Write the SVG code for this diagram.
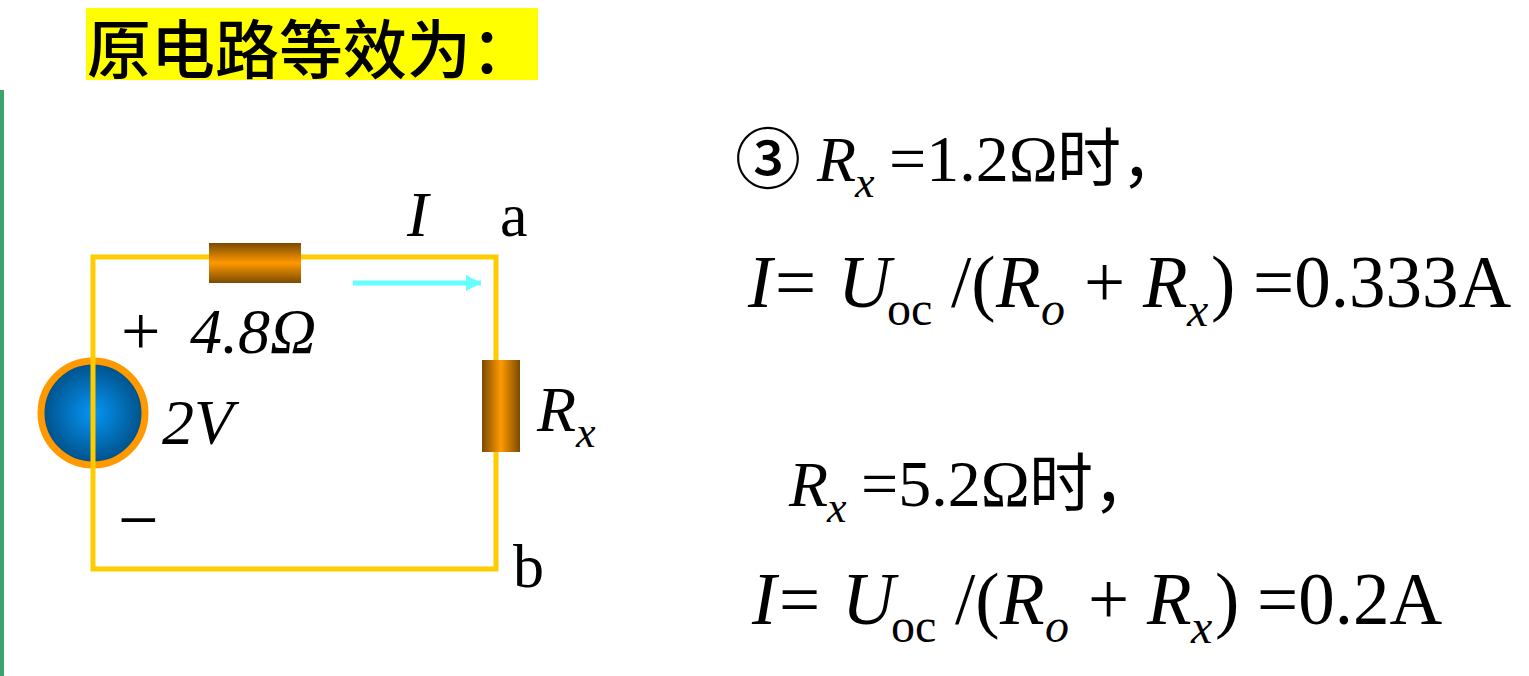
<svg xmlns="http://www.w3.org/2000/svg" width="1529" height="676" viewBox="0 0 1529 676">
<style>
text{font-family:"Liberation Serif","Noto Sans CJK SC",serif;fill:#000}
.l{font-size:64px}
.e{font-size:73px}
.i{font-style:italic}
.s{font-size:44px}
.t{font-size:48px}
.w{fill:none;stroke:#fc0;stroke-width:5}
.cjk{font-family:"Noto Sans CJK SC",sans-serif}
</style>
<defs>
<linearGradient id="h" x1="0" y1="0" x2="0" y2="1"><stop offset="0" stop-color="#7a4b00"/><stop offset=".5" stop-color="#f90"/><stop offset="1" stop-color="#7a4b00"/></linearGradient>
<linearGradient id="v" x1="0" y1="0" x2="1" y2="0"><stop offset="0" stop-color="#7a4b00"/><stop offset=".5" stop-color="#f90"/><stop offset="1" stop-color="#7a4b00"/></linearGradient>
<radialGradient id="b"><stop offset="0" stop-color="#0596f5"/><stop offset="1" stop-color="#004f86"/></radialGradient>
<marker id="a" markerUnits="userSpaceOnUse" markerWidth="16" markerHeight="16" refX="15" refY="8" orient="auto"><path d="M0 0L15 8L0 16Z" fill="#6ff"/></marker>
</defs>
<rect x="0" y="90" width="4" height="586" fill="#3ca370"/>
<g id="title"><rect x="86" y="8" width="452" height="72" fill="#ff0"/><text class="cjk" x="87" y="73" font-size="64" font-weight="500">原电路等效为：</text></g>
<g id="source"><circle cx="93" cy="413" r="52" fill="url(#b)" stroke="#f90" stroke-width="7"/></g>
<g id="connectors">
<path class="w" d="M93 257H496V569H93Z"/>
<path d="M353 283H481" stroke="#6ff" stroke-width="5" fill="none" marker-end="url(#a)"/>
</g>
<g id="r0"><rect x="209" y="243" width="92" height="40" fill="url(#h)"/></g>
<g id="rx"><rect x="482" y="360" width="38" height="92" fill="url(#v)"/></g>
<g id="labels">
<text class="l i" x="407" y="236">I</text>
<text x="500" y="236" font-size="62">a</text>
<text x="121" y="355" font-size="70">+</text>
<text class="l i" x="190" y="353">4.8Ω</text>
<text class="l i" x="162" y="444">2V</text>
<text class="l i" x="537" y="431">R</text><text class="s i" x="576" y="447">x</text>
<text x="118" y="544" font-size="72">−</text>
<text x="513" y="587" font-size="62">b</text>
</g>
<g id="eq1">
<text x="735" y="183" font-size="66" font-weight="500" class="cjk">③</text>
<text class="l i" x="817" y="181">R</text><text class="s i" x="855" y="197">x</text>
<text x="889" y="181" font-size="66">=1.2Ω</text><text class="l" x="1057" y="181">时，</text>
<text class="e i" x="748" y="307">I</text><text class="e" x="775" y="307">=</text>
<text class="e i" x="838" y="307">U</text><text class="t" x="887" y="325">oc</text>
<text class="e" x="951" y="307">/(</text><text class="e i" x="996" y="307">R</text><text class="t i" x="1041" y="325">o</text>
<text class="e" x="1084" y="307">+</text><text class="e i" x="1143" y="307">R</text><text class="t i" x="1187" y="326">x</text>
<text class="e" x="1211" y="307">)</text><text class="e" x="1253" y="307">=0.333A</text>
</g>
<g id="eq2">
<text class="l i" x="789" y="506">R</text><text class="s i" x="827" y="522">x</text>
<text x="861" y="506" font-size="66">=5.2Ω</text><text class="l" x="1029" y="506">时，</text>
<text class="e i" x="752" y="624">I</text><text class="e" x="779" y="624">=</text>
<text class="e i" x="842" y="624">U</text><text class="t" x="891" y="642">oc</text>
<text class="e" x="955" y="624">/(</text><text class="e i" x="1000" y="624">R</text><text class="t i" x="1045" y="642">o</text>
<text class="e" x="1088" y="624">+</text><text class="e i" x="1147" y="624">R</text><text class="t i" x="1191" y="643">x</text>
<text class="e" x="1215" y="624">)</text><text class="e" x="1257" y="624">=0.2A</text>
</g>
</svg>
